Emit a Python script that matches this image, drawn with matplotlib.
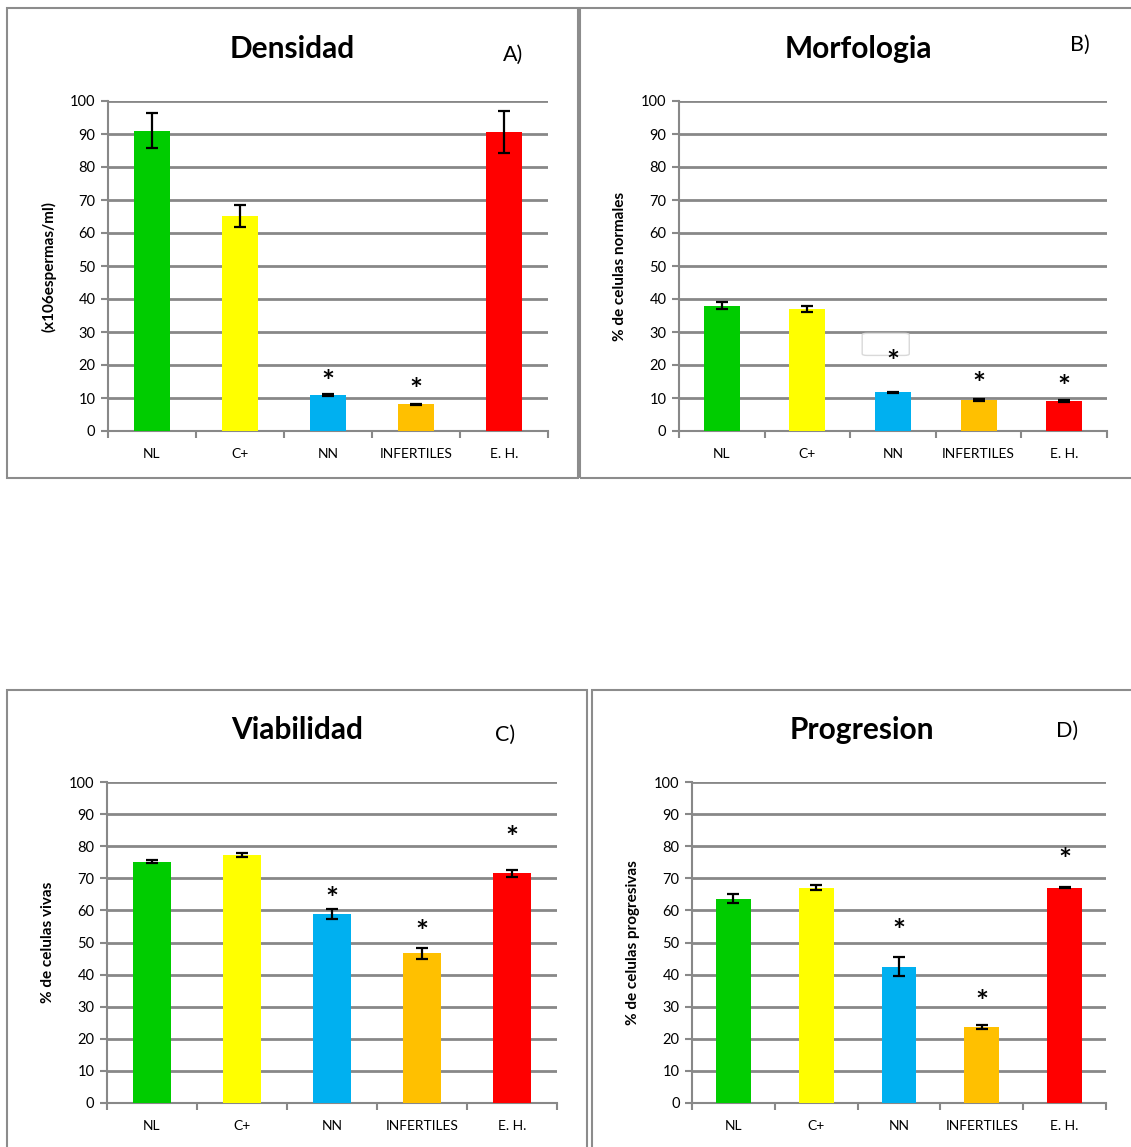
import matplotlib
matplotlib.use('Agg')
import matplotlib.pyplot as plt
from matplotlib.patches import Rectangle, FancyBboxPatch

categories = ['NL', 'C+', 'NN', 'INFERTILES', 'E. H.']
colors = ['#00CC00', '#FFFF00', '#00B0F0', '#FFC000', '#FF0000']

dens_vals = [91.0, 65.2, 10.9, 8.1, 90.7]
dens_err = [5.3, 3.3, 0.2, 0.2, 6.4]
dens_stars = [None, None, 17.0, 14.5, None]

morf_vals = [38.0, 37.0, 11.7, 9.4, 9.1]
morf_err = [1.0, 0.9, 0.2, 0.4, 0.3]
morf_stars = [None, None, 23.0, 16.4, 15.6]

viab_vals = [75.2, 77.2, 58.8, 46.6, 71.5]
viab_err = [0.4, 0.6, 1.5, 1.6, 1.0]
viab_stars = [None, None, 65.7, 55.5, 84.7]

prog_vals = [63.7, 67.1, 42.5, 23.8, 67.1]
prog_err = [1.3, 0.8, 3.0, 0.6, 0.2]
prog_stars = [None, None, 56.0, 33.6, 78.0]

W, H = 1131, 1147
FONT = 'Lato'
GRID = '#888888'

fig = plt.figure(figsize=(W / 100, H / 100), dpi=100)
fig.patch.set_facecolor('white')


def px_rect(left, right, top, bottom):
    return [left / W, 1 - bottom / H, (right - left) / W, (bottom - top) / H]


def frame(left, right, top, bottom):
    fig.patches.append(Rectangle((left / W, 1 - bottom / H), (right - left) / W,
                                 (bottom - top) / H, transform=fig.transFigure,
                                 fill=False, edgecolor='#8c8c8c', linewidth=1.5))


def panel(rect, vals, err, stars, ylabel, title, title_xy, letter, letter_xy):
    ax = fig.add_axes(rect)
    x = list(range(len(categories)))
    ax.bar(x, vals, width=0.42, color=colors, zorder=3)
    ax.errorbar(x, vals, yerr=err, fmt='none', ecolor='black', elinewidth=1.6,
                capsize=4, capthick=1.6, zorder=4)
    for i, s in enumerate(stars):
        if s is not None:
            # asterisk glyph sits high in the line, nudge it down
            ax.annotate('*', (i, s), xytext=(0, -6), textcoords='offset points',
                        ha='center', va='center', fontsize=22, fontweight='bold',
                        family=FONT, zorder=6)
    ax.set_xlim(-0.5, 4.5)
    ax.set_ylim(0, 100)
    ax.set_yticks(range(0, 101, 10))
    ax.yaxis.grid(True, color=GRID, linewidth=2)
    ax.set_axisbelow(True)
    ax.set_xticks(x)
    ax.set_xticklabels(categories, family=FONT, fontsize=10)
    ax.set_xticks([i - 0.5 for i in range(6)], minor=True)
    ax.tick_params(axis='x', which='major', length=0, pad=12)
    ax.tick_params(axis='x', which='minor', length=5, width=1.5, color=GRID,
                   direction='out')
    ax.tick_params(axis='y', length=5, width=1.5, color=GRID, pad=4)
    for lab in ax.get_yticklabels():
        lab.set_family(FONT)
        lab.set_fontsize(10.5)
    for sp in ['top', 'right']:
        ax.spines[sp].set_visible(False)
    for sp in ['left', 'bottom']:
        ax.spines[sp].set_color(GRID)
        ax.spines[sp].set_linewidth(1.5)
    ax.set_ylabel(ylabel, family=FONT, fontweight='bold', fontsize=11, labelpad=10)
    fig.text(title_xy[0] / W, 1 - title_xy[1] / H, title, ha='center', va='center',
             family=FONT, fontweight='bold', fontsize=21.5)
    fig.text(letter_xy[0] / W, 1 - letter_xy[1] / H, letter, ha='center', va='center',
             family=FONT, fontsize=15.5)
    return ax


frame(7, 578, 8, 478)
frame(580, 1140, 8, 478)
frame(7, 587, 690, 1160)
frame(592, 1140, 690, 1160)

panel(px_rect(108, 548, 101, 431), dens_vals, dens_err, dens_stars,
      '(x106espermas/ml)', 'Densidad', (292, 49), 'A)', (513, 55))
axB = panel(px_rect(679, 1107, 101, 431), morf_vals, morf_err, morf_stars,
            '% de celulas normales', 'Morfologia', (858, 49), 'B)', (1080, 45))
axB.add_patch(FancyBboxPatch((1.64, 22.9), 0.55, 6.7,
                             boxstyle='round,pad=0,rounding_size=0.06',
                             mutation_aspect=8, facecolor='white',
                             edgecolor='#d9d9d9', linewidth=1, zorder=5))
panel(px_rect(107, 557, 782, 1103), viab_vals, viab_err, viab_stars,
      '% de celulas vivas', 'Viabilidad', (297, 730), 'C)', (505, 735))
panel(px_rect(692, 1106, 782, 1103), prog_vals, prog_err, prog_stars,
      '% de celulas progresivas', 'Progresion', (862, 730), 'D)', (1067, 731))

fig.savefig('out.png', dpi=100, facecolor='white')
